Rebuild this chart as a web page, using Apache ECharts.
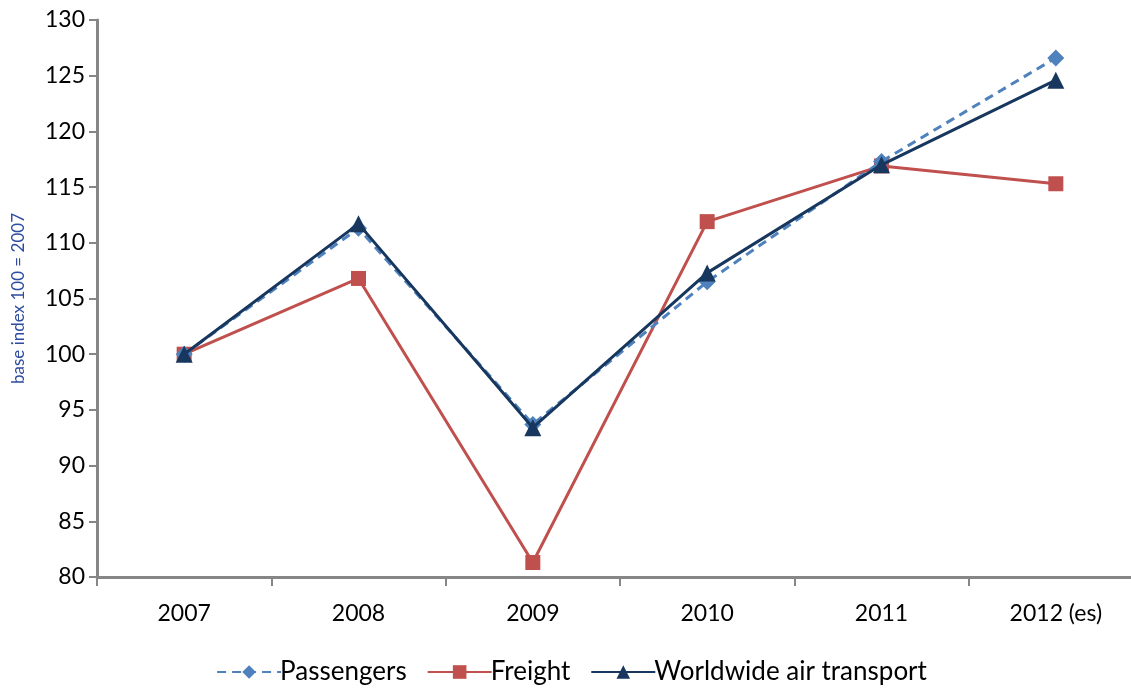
<!DOCTYPE html>
<html><head><meta charset="utf-8">
<script src="https://cdn.jsdelivr.net/npm/echarts@6/dist/echarts.min.js"></script>
<style>html,body{margin:0;padding:0;background:#fff;overflow:hidden;width:1131px;height:689px}#c{width:1143px;height:689px}</style>
</head><body><div id="c"></div>
<script>
const categories = ['2007','2008','2009','2010','2011','2012 (es)'];
const passengers = [100, 111.3, 93.7, 106.5, 117.3, 126.6];
const freight = [100, 106.8, 81.3, 111.9, 116.9, 115.3];
const worldwide = [100, 111.7, 93.4, 107.3, 117.0, 124.6];
const yTicks = {min: 80, max: 130, interval: 5};

const chart = echarts.init(document.getElementById('c'));
const font = 'Lato, "Open Sans", sans-serif';
chart.setOption({
  animation: false,
  textStyle: {fontFamily: font},
  grid: {left: 97, right: 0, top: 20, bottom: 112, containLabel: false, outerBoundsMode: 'none'},
  legend: {
    bottom: -1, left: 'center', itemGap: 20, itemWidth: 64, itemHeight: 17,
    textStyle: {fontSize: 26, color: '#000', fontFamily: font, padding: [0,0,0,-6]},
    data: ['Passengers','Freight','Worldwide air transport']
  },
  xAxis: {
    type: 'category', data: categories, boundaryGap: true,
    axisLine: {lineStyle: {color: '#868686', width: 3}},
    axisTick: {show: true, length: 9, lineStyle: {color: '#868686', width: 2}},
    axisLabel: {fontSize: 23, color: '#000', margin: 25, fontFamily: font}
  },
  yAxis: {
    type: 'value', min: yTicks.min, max: yTicks.max, interval: yTicks.interval,
    name: 'base index 100 = 2007', nameLocation: 'middle', nameGap: 70,
    nameTextStyle: {fontSize: 17, color: '#2E4DA0', fontFamily: font},
    splitLine: {show: false},
    axisLine: {show: true, lineStyle: {color: '#868686', width: 3}},
    axisTick: {show: true, length: 8, lineStyle: {color: '#868686', width: 2}},
    axisLabel: {fontSize: 23, color: '#000', margin: 12, fontFamily: font}
  },
  series: [
    {name: 'Passengers', type: 'line', data: passengers, symbol: 'diamond', symbolSize: 17,
     itemStyle: {color: '#4F81BD'}, lineStyle: {color: '#4F81BD', width: 3, type: [9, 6]}, z: 3},
    {name: 'Freight', type: 'line', data: freight, symbol: 'rect', symbolSize: 15,
     itemStyle: {color: '#C0504D'}, lineStyle: {color: '#C0504D', width: 3}, z: 2},
    {name: 'Worldwide air transport', type: 'line', data: worldwide, symbol: 'triangle', symbolSize: 17,
     itemStyle: {color: '#17375E'}, lineStyle: {color: '#17375E', width: 3}, z: 4}
  ]
});
</script></body></html>
